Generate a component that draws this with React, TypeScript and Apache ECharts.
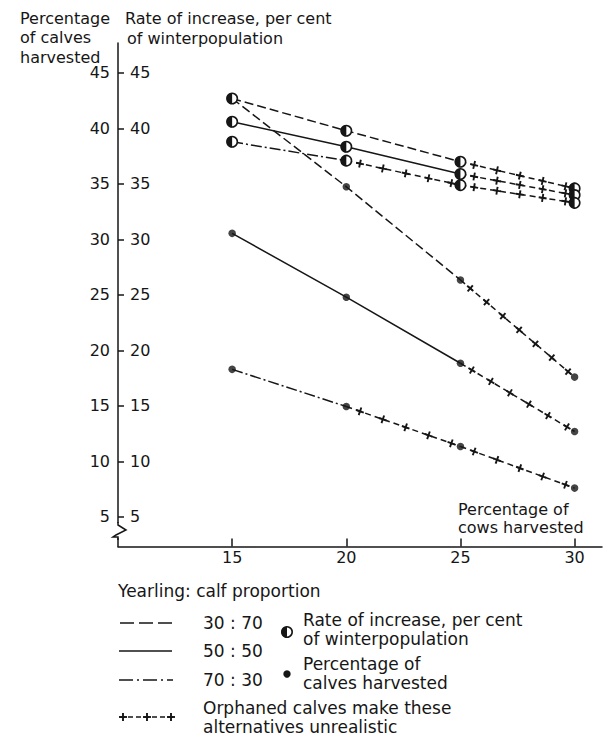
import React, { useEffect, useRef } from "react";
import * as echarts from "echarts";

// Percentage of cows harvested (x categories)
const cows = [15, 20, 25, 30];

// Rate of increase, per cent of winterpopulation
const rate3070 = [42.7, 39.8, 37.0, 34.6];
const rate5050 = [40.6, 38.35, 35.9, 34.0];
const rate7030 = [38.8, 37.1, 34.9, 33.3];

// Percentage of calves harvested
const calves3070 = [42.7, 34.75, 26.35, 17.6];
const calves5050 = [30.55, 24.8, 18.85, 12.7];
const calves7030 = [18.3, 14.95, 11.35, 7.6];

// index of last point before "orphaned calves make these alternatives unrealistic"
const lastRealistic = {
  rate3070: 2,
  rate5050: 2,
  rate7030: 1,
  calves3070: 2,
  calves5050: 2,
  calves7030: 1,
};

const xTicks = [15, 20, 25, 30];
const yTicks = [5, 10, 15, 20, 25, 30, 35, 40, 45];

const FONT = "DejaVu Sans";
const INK = "#161616";
const DASHED = [9, 4];
const DASHDOT = [11, 3, 2, 3];
const LW = 1.5;

type Curve = {
  name: string;
  kind: "rate" | "calves";
  values: number[];
  dash: number[] | "solid";
  last: number;
};

const curves: Curve[] = [
  { name: "rate3070", kind: "rate", values: rate3070, dash: DASHED, last: lastRealistic.rate3070 },
  { name: "rate5050", kind: "rate", values: rate5050, dash: "solid", last: lastRealistic.rate5050 },
  { name: "rate7030", kind: "rate", values: rate7030, dash: DASHDOT, last: lastRealistic.rate7030 },
  { name: "calves3070", kind: "calves", values: calves3070, dash: DASHED, last: lastRealistic.calves3070 },
  { name: "calves5050", kind: "calves", values: calves5050, dash: "solid", last: lastRealistic.calves5050 },
  { name: "calves7030", kind: "calves", values: calves7030, dash: DASHDOT, last: lastRealistic.calves7030 },
];

function crossedSegment(params: any, api: any) {
  const p0 = api.coord([api.value(0), api.value(1)]);
  const p1 = api.coord([api.value(2), api.value(3)]);
  const dx = p1[0] - p0[0];
  const dy = p1[1] - p0[1];
  const len = Math.hypot(dx, dy);
  const ux = dx / len;
  const uy = dy / len;
  const nx = -uy;
  const ny = ux;
  const n = Math.max(1, Math.round(len / 23));
  const children: any[] = [
    {
      type: "line",
      shape: { x1: p0[0], y1: p0[1], x2: p1[0], y2: p1[1] },
      style: { stroke: INK, lineWidth: LW, lineDash: [6, 4] },
    },
  ];
  const a = 4;
  for (let i = 0; i < n; i++) {
    const t = (i + 0.6) / n;
    const cx = p0[0] + dx * t;
    const cy = p0[1] + dy * t;
    children.push({
      type: "line",
      shape: { x1: cx - ux * a, y1: cy - uy * a, x2: cx + ux * a, y2: cy + uy * a },
      style: { stroke: INK, lineWidth: 1.9 },
    });
    children.push({
      type: "line",
      shape: { x1: cx - nx * a, y1: cy - ny * a, x2: cx + nx * a, y2: cy + ny * a },
      style: { stroke: INK, lineWidth: 1.9 },
    });
  }
  return { type: "group", children };
}

function halfCircle(params: any, api: any) {
  const p = api.coord([api.value(0), api.value(1)]);
  return {
    type: "group",
    children: [
      { type: "circle", shape: { cx: p[0], cy: p[1], r: 5.2 }, style: { fill: "#fff", stroke: INK, lineWidth: 1.6 } },
      {
        type: "sector",
        shape: { cx: p[0], cy: p[1], r0: 0, r: 5.6, startAngle: Math.PI / 2, endAngle: (Math.PI * 3) / 2 },
        style: { fill: INK },
      },
    ],
  };
}

function buildSeries() {
  const series: any[] = [];
  curves.forEach((c) => {
    const pts = cows.map((x, i) => [x, c.values[i]]);
    series.push({
      type: "line",
      name: c.name,
      data: pts.slice(0, c.last + 1),
      symbol: "none",
      lineStyle: { color: INK, width: LW, type: c.dash === "solid" ? "solid" : c.dash },
      z: 2,
      silent: true,
    });
    const segs: number[][] = [];
    for (let i = c.last; i < cows.length - 1; i++) {
      segs.push([cows[i], c.values[i], cows[i + 1], c.values[i + 1]]);
    }
    series.push({
      type: "custom",
      name: c.name + "-unrealistic",
      data: segs,
      encode: { x: [0, 2], y: [1, 3] },
      renderItem: crossedSegment,
      z: 3,
      silent: true,
    });
  });
  // calves markers (filled dots)
  curves
    .filter((c) => c.kind === "calves")
    .forEach((c) => {
      series.push({
        type: "scatter",
        data: cows.map((x, i) => [x, c.values[i]]),
        symbol: "circle",
        symbolSize: 7.5,
        itemStyle: { color: INK },
        z: 4,
        silent: true,
      });
    });
  // rate markers (half-filled circles)
  curves
    .filter((c) => c.kind === "rate")
    .forEach((c) => {
      series.push({
        type: "custom",
        data: cows.map((x, i) => [x, c.values[i]]),
        encode: { x: 0, y: 1 },
        renderItem: halfCircle,
        z: 5,
        silent: true,
      });
    });
  return series;
}

const txt = (x: number, y: number, text: string, size = 16, lineHeight?: number) => ({
  type: "text",
  x,
  y,
  silent: true,
  style: {
    text,
    fill: INK,
    font: `${size}px "${FONT}"`,
    lineHeight: lineHeight || Math.round(size * 1.2),
    textAlign: "left",
    textVerticalAlign: "middle",
  },
});

const lineG = (x1: number, y1: number, x2: number, y2: number, dash?: number[], w = LW) => ({
  type: "line",
  silent: true,
  shape: { x1, y1, x2, y2 },
  style: { stroke: INK, lineWidth: w, lineDash: dash },
});

function buildGraphics() {
  const g: any[] = [];
  // headers
  g.push(txt(20, 37.5, "Percentage\nof calves\nharvested", 16, 19.5));
  g.push(txt(125, 18, "Rate of increase, per cent"));
  g.push(txt(127, 38, "of winterpopulation"));
  // x-axis title
  g.push(txt(458, 518, "Percentage of\ncows harvested", 16, 18));
  // axis break
  g.push({ type: "rect", silent: true, shape: { x: 112, y: 523, width: 14, height: 15 }, style: { fill: "#fff" }, z: 100 });
  g.push({
    type: "polyline",
    silent: true,
    shape: { points: [[118, 522], [118, 525], [126, 530], [116, 535], [113, 537], [118, 537], [118, 540]] },
    style: { stroke: INK, lineWidth: LW, fill: null },
    z: 101,
  });
  // legend
  const LF = 17;
  g.push(txt(118, 591, "Yearling: calf proportion", LF));
  g.push(lineG(120, 623, 173, 623, [14, 5]));
  g.push(txt(203, 623, "30 : 70", LF));
  g.push(lineG(119, 651, 172, 651));
  g.push(txt(203, 651, "50 : 50", LF));
  g.push(lineG(119, 680, 173, 680, [14, 4, 2, 4]));
  g.push(txt(203, 680, "70 : 30", LF));
  // orphaned symbol
  g.push(lineG(120, 717, 173, 717, [5, 3]));
  [123, 147, 171].forEach((x) => {
    g.push(lineG(x - 4, 717, x + 4, 717, undefined, 1.9));
    g.push(lineG(x, 713, x, 721, undefined, 1.9));
  });
  g.push(txt(203, 717.5, "Orphaned calves make these\nalternatives unrealistic", LF, 19));
  // marker legend
  g.push({ type: "circle", silent: true, shape: { cx: 287, cy: 632, r: 5.2 }, style: { fill: "#fff", stroke: INK, lineWidth: 1.6 } });
  g.push({
    type: "sector",
    silent: true,
    shape: { cx: 287, cy: 632, r0: 0, r: 5.6, startAngle: Math.PI / 2, endAngle: (Math.PI * 3) / 2 },
    style: { fill: INK },
  });
  g.push(txt(303, 629, "Rate of increase, per cent\nof winterpopulation", LF, 19));
  g.push({ type: "circle", silent: true, shape: { cx: 287, cy: 674, r: 3.7 }, style: { fill: INK } });
  g.push(txt(303, 673, "Percentage of\ncalves harvested", LF, 19));
  return g;
}

export default function App() {
  const ref = useRef<HTMLDivElement>(null);
  useEffect(() => {
    if (!ref.current) return;
    const chart = echarts.init(ref.current, undefined, { renderer: "svg" });
    const axisLineStyle = { color: INK, width: LW };
    chart.setOption({
      animation: false,
      backgroundColor: "#fff",
      grid: { left: 118, right: 1, top: 43, bottom: 192.5, containLabel: false },
      xAxis: {
        type: "value",
        min: 10,
        max: 31.2,
        axisLine: { show: true, onZero: false, lineStyle: axisLineStyle },
        axisTick: { show: true, inside: true, length: 8, customValues: xTicks, lineStyle: axisLineStyle },
        axisLabel: { customValues: xTicks, color: INK, fontSize: 16, fontFamily: FONT, margin: 3 },
        splitLine: { show: false },
      },
      yAxis: [
        {
          type: "value",
          min: 2.34,
          max: 47.7,
          position: "left",
          axisLine: { show: true, onZero: false, lineStyle: axisLineStyle },
          axisTick: { show: true, inside: true, length: 6, customValues: yTicks, lineStyle: axisLineStyle },
          axisLabel: { customValues: yTicks, color: INK, fontSize: 16, fontFamily: FONT, margin: 8 },
          splitLine: { show: false },
        },
        {
          type: "value",
          min: 2.34,
          max: 47.7,
          position: "left",
          offset: 0,
          axisLine: { show: false },
          axisTick: { show: false },
          axisLabel: { inside: true, customValues: yTicks, color: INK, fontSize: 16, fontFamily: FONT, margin: 12 },
          splitLine: { show: false },
        },
      ],
      series: buildSeries(),
      graphic: buildGraphics(),
    });
    return () => chart.dispose();
  }, []);
  return (
    <div
      ref={ref}
      style={{ position: "fixed", left: 0, top: 0, width: 603, height: 739, background: "#fff" }}
    />
  );
}
